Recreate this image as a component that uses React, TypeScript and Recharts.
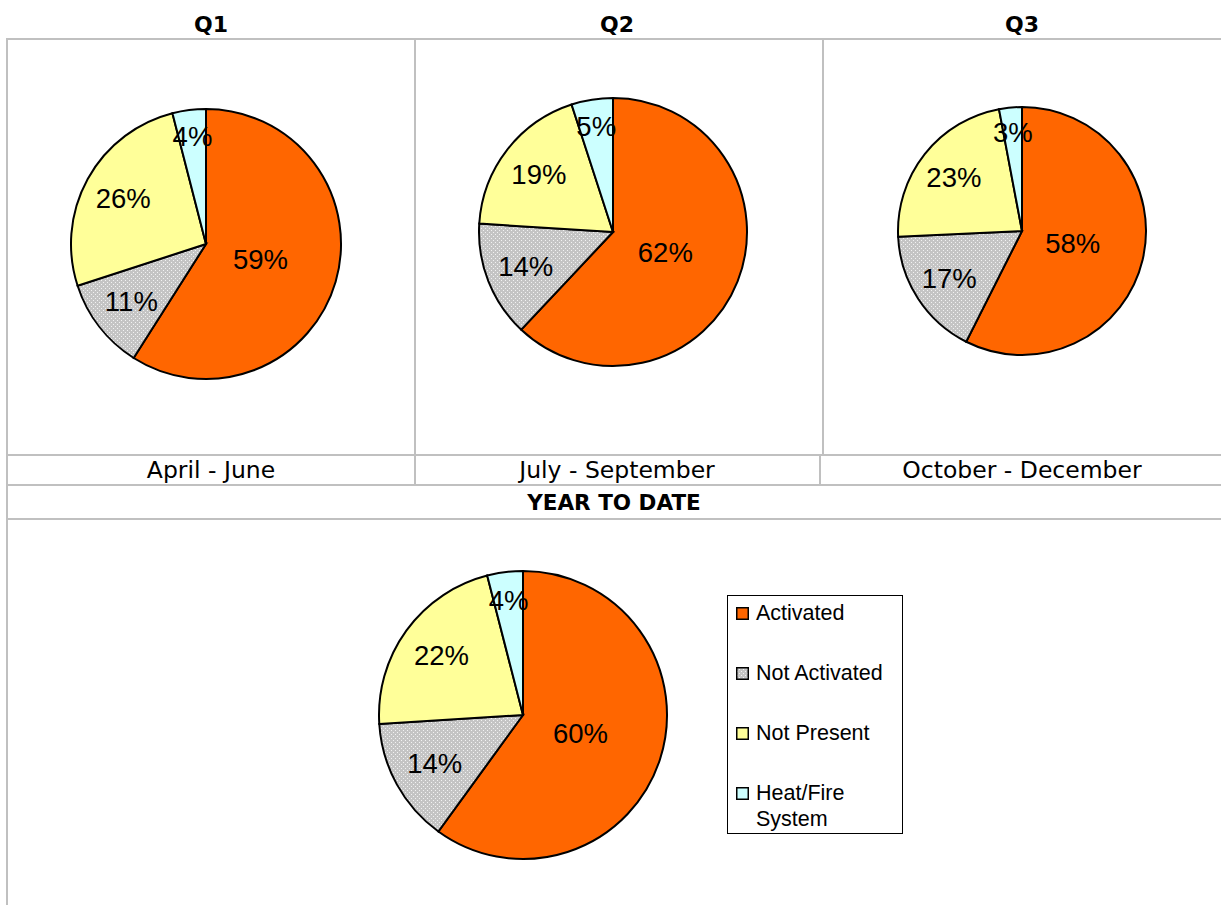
import React from "react";
import { Cell, Legend, Pie, PieChart } from "recharts";

const categories = ["Activated", "Not Activated", "Not Present", "Heat/Fire System"];
const q1Values = [59, 11, 26, 4];
const q2Values = [62, 14, 19, 5];
const q3Values = [58, 17, 23, 3];
const ytdValues = [60, 14, 22, 4];
const quarterTitles = ["Q1", "Q2", "Q3"];
const periodLabels = ["April - June", "July - September", "October - December"];

const FILLS = ["#FF6600", "url(#dots)", "#FFFF99", "#CCFFFF"];
// how far out (fraction of the radius) each slice's label sits
const LABEL_RADIUS = [0.42, 0.7, 0.7, 0.8];
const RAD = Math.PI / 180;
const GRID = "#c0c0c0";
const CAPTION_FONT = "'DejaVu Sans', Verdana, sans-serif";
const PIE_FONT = "'Liberation Sans', Arial, sans-serif";

const toRows = (values: number[]) =>
  categories.map((name, i) => ({ name, value: values[i], fill: FILLS[i] }));

const renderLabel = (props: any) => {
  const { cx, cy, midAngle, outerRadius, index, value } = props;
  const r = outerRadius * LABEL_RADIUS[index];
  const x = cx + r * Math.cos(-midAngle * RAD);
  const y = cy + r * Math.sin(-midAngle * RAD);
  return (
    <text
      x={x}
      y={y}
      textAnchor="middle"
      dominantBaseline="central"
      fontSize={27.5}
      fontFamily={PIE_FONT}
      fill="#000"
    >
      {value}%
    </text>
  );
};

const DotPattern = () => (
  <defs>
    <pattern id="dots" width="4" height="4" patternUnits="userSpaceOnUse">
      <rect width="4" height="4" fill="#c4c4c4" shapeRendering="crispEdges" />
      <rect x="1" y="0" width="1" height="1" fill="#f2f2f2" shapeRendering="crispEdges" />
      <rect x="3" y="2" width="1" height="1" fill="#f2f2f2" shapeRendering="crispEdges" />
    </pattern>
  </defs>
);

const LegendBox = () => (
  <div
    style={{
      border: "1.5px solid #000",
      background: "#fff",
      width: 176,
      height: 239,
      boxSizing: "border-box",
      padding: "4px 4px 0 8px",
      fontFamily: PIE_FONT,
      fontSize: 21.5,
      color: "#000",
    }}
  >
    {categories.map((name, i) => (
      <div
        key={name}
        style={{ display: "flex", alignItems: "flex-start", lineHeight: "26px", marginBottom: 34 }}
      >
        <svg width={13} height={13} style={{ marginTop: 7, marginRight: 7, flex: "none" }}>
          <rect x={0.75} y={0.75} width={11.5} height={11.5} fill={FILLS[i]} stroke="#000" strokeWidth={1.5} />
        </svg>
        <span>{name}</span>
      </div>
    ))}
  </div>
);

type PieBoxProps = {
  values: number[];
  width: number;
  height: number;
  cx: number;
  cy: number;
  radius: number;
  withLegend?: boolean;
};

const PieBox = ({ values, width, height, cx, cy, radius, withLegend }: PieBoxProps) => (
  <PieChart width={width} height={height} margin={{ top: 0, right: 0, bottom: 0, left: 0 }}>
    <DotPattern />
    <Pie
      data={toRows(values)}
      dataKey="value"
      nameKey="name"
      cx={cx}
      cy={cy}
      outerRadius={radius}
      startAngle={90}
      endAngle={-270}
      stroke="#000"
      strokeWidth={2}
      label={renderLabel}
      labelLine={false}
      isAnimationActive={false}
    >
      {values.map((_, i) => (
        <Cell key={i} fill={FILLS[i]} />
      ))}
    </Pie>
    {withLegend && (
      <Legend
        content={() => <LegendBox />}
        wrapperStyle={{ left: 719, top: 75, width: 176, height: 239, bottom: "auto" }}
      />
    )}
  </PieChart>
);

const line = (left: number, top: number, width: number, height: number) => (
  <div style={{ position: "absolute", left, top, width, height, background: GRID }} />
);

const centeredText = (text: string, cx: number, cy: number, bold: boolean, size: number) => (
  <div
    style={{
      position: "absolute",
      left: cx - 200,
      top: cy - 20,
      width: 400,
      height: 40,
      lineHeight: "40px",
      textAlign: "center",
      fontFamily: CAPTION_FONT,
      fontWeight: bold ? "bold" : "normal",
      fontSize: size,
      color: "#000",
    }}
  >
    {text}
  </div>
);

export default function App() {
  const titleX = [211, 617, 1022];
  return (
    <div style={{ position: "absolute", left: 0, top: 0, width: 1221, height: 905, background: "#fff", overflow: "hidden" }}>
      {/* grid of the table */}
      {line(6, 38, 1215, 2)}
      {line(6, 38, 2, 867)}
      {line(414, 38, 2, 447)}
      {line(822, 38, 2, 417)}
      {line(819, 455, 2, 30)}
      {line(6, 454, 1215, 2)}
      {line(6, 484, 1215, 2)}
      {line(6, 518, 1215, 2)}

      {quarterTitles.map((t, i) => (
        <React.Fragment key={t}>{centeredText(t, titleX[i], 25, true, 22)}</React.Fragment>
      ))}
      {periodLabels.map((t, i) => (
        <React.Fragment key={t}>{centeredText(t, titleX[i], 470, false, 23.5)}</React.Fragment>
      ))}
      {centeredText("YEAR TO DATE", 614, 503, true, 21.5)}

      <div style={{ position: "absolute", left: 8, top: 40 }}>
        <PieBox values={q1Values} width={406} height={414} cx={198} cy={204} radius={135} />
      </div>
      <div style={{ position: "absolute", left: 416, top: 40 }}>
        <PieBox values={q2Values} width={406} height={414} cx={197} cy={192} radius={134} />
      </div>
      <div style={{ position: "absolute", left: 824, top: 40 }}>
        <PieBox values={q3Values} width={397} height={414} cx={198} cy={191} radius={124} />
      </div>
      <div style={{ position: "absolute", left: 8, top: 520 }}>
        <PieBox values={ytdValues} width={1213} height={385} cx={515} cy={195} radius={144} withLegend />
      </div>
    </div>
  );
}
